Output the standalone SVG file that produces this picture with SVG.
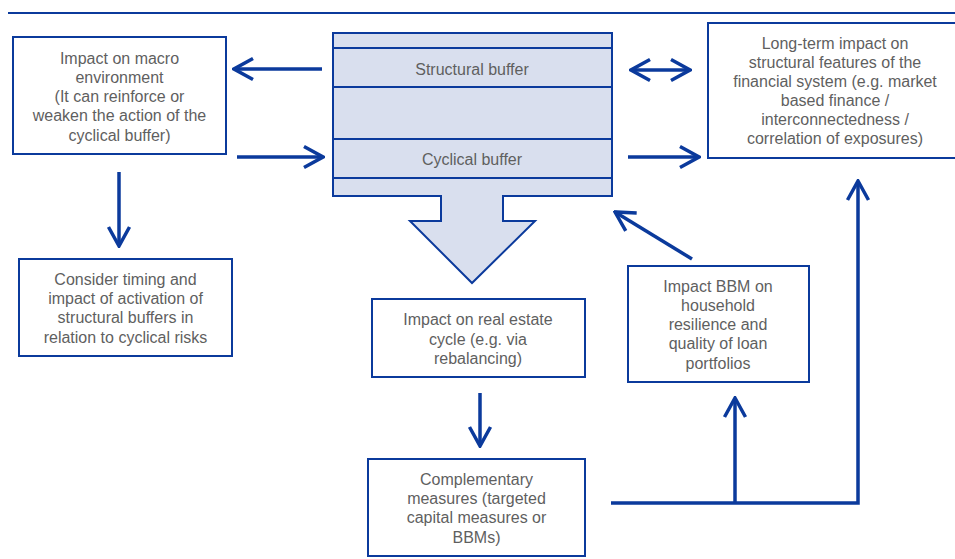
<svg xmlns="http://www.w3.org/2000/svg" width="955" height="559" viewBox="0 0 955 559">
<style>
.box{fill:#fff;stroke:#0B3A9C;stroke-width:2}
.stk{fill:#D9DFEE;stroke:#0B3A9C;stroke-width:2}
.ln{fill:none;stroke:#0B3A9C;stroke-width:3.5}
.sep{stroke:#0B3A9C;stroke-width:2}
text{font-family:"Liberation Sans",Arial,sans-serif;font-size:16px;fill:#5F5F5F;text-anchor:middle}
</style>
<defs>
<marker id="ah" markerUnits="userSpaceOnUse" viewBox="-22 -13 24 26" markerWidth="24" markerHeight="26" refX="0" refY="0" orient="auto-start-reverse">
<path d="M-19,-10.5 L0,0 L-19,10.5" fill="none" stroke="#0B3A9C" stroke-width="3.5"/>
</marker>
</defs>
<line x1="8" y1="13" x2="955" y2="13" stroke="#0B3A9C" stroke-width="2"/>

<g id="macro">
<rect class="box" x="13" y="37" width="213" height="117"/>
<text x="119.5" y="64">Impact on macro</text>
<text x="119.5" y="83">environment</text>
<text x="119.5" y="102">(It can reinforce or</text>
<text x="119.5" y="121">weaken the action of the</text>
<text x="119.5" y="141">cyclical buffer)</text>
</g>

<g id="stack">
<path class="stk" d="M333,33 H612 V196 H503 V221 H535 L472,283 L410,221 H441 V196 H333 Z"/>
<line class="sep" x1="333" y1="48" x2="612" y2="48"/>
<line class="sep" x1="333" y1="87" x2="612" y2="87"/>
<line class="sep" x1="333" y1="139" x2="612" y2="139"/>
<line class="sep" x1="333" y1="178" x2="612" y2="178"/>
<text x="472" y="75">Structural buffer</text>
<text x="472" y="165">Cyclical buffer</text>
</g>

<g id="longterm">
<rect class="box" x="708" y="23" width="260" height="135"/>
<text x="835" y="49">Long-term impact on</text>
<text x="835" y="68">structural features of the</text>
<text x="835" y="87">financial system (e.g. market</text>
<text x="835" y="106">based finance /</text>
<text x="835" y="125">interconnectedness /</text>
<text x="835" y="144">correlation of exposures)</text>
</g>

<g id="timing">
<rect class="box" x="19" y="259" width="213" height="97"/>
<text x="125.5" y="285">Consider timing and</text>
<text x="125.5" y="304">impact of activation of</text>
<text x="125.5" y="323">structural buffers in</text>
<text x="125.5" y="343">relation to cyclical risks</text>
</g>

<g id="realestate">
<rect class="box" x="372" y="299" width="213" height="78"/>
<text x="478" y="325">Impact on real estate</text>
<text x="478" y="345">cycle (e.g. via</text>
<text x="478" y="364">rebalancing)</text>
</g>

<g id="complementary">
<rect class="box" x="368" y="459" width="217" height="97"/>
<text x="476.5" y="485">Complementary</text>
<text x="476.5" y="504">measures (targeted</text>
<text x="476.5" y="523">capital measures or</text>
<text x="476.5" y="543">BBMs)</text>
</g>

<g id="bbm">
<rect class="box" x="628" y="266" width="181" height="116"/>
<text x="718" y="292">Impact BBM on</text>
<text x="718" y="311">household</text>
<text x="718" y="330">resilience and</text>
<text x="718" y="349">quality of loan</text>
<text x="718" y="369">portfolios</text>
</g>

<g id="connectors">
<line class="ln" x1="322" y1="69" x2="234" y2="69" marker-end="url(#ah)"/>
<line class="ln" x1="237" y1="157" x2="323" y2="157" marker-end="url(#ah)"/>
<line class="ln" x1="119" y1="172" x2="119" y2="246" marker-end="url(#ah)"/>
<line class="ln" x1="631" y1="70" x2="690" y2="70" marker-start="url(#ah)" marker-end="url(#ah)"/>
<line class="ln" x1="628" y1="157" x2="699" y2="157" marker-end="url(#ah)"/>
<line class="ln" x1="480" y1="393" x2="480" y2="446" marker-end="url(#ah)"/>
<line class="ln" x1="692" y1="259" x2="615" y2="212" marker-end="url(#ah)"/>
<polyline class="ln" points="611,503 858,503 858,181" marker-end="url(#ah)"/>
<line class="ln" x1="735" y1="503" x2="735" y2="398" marker-end="url(#ah)"/>
</g>
</svg>
